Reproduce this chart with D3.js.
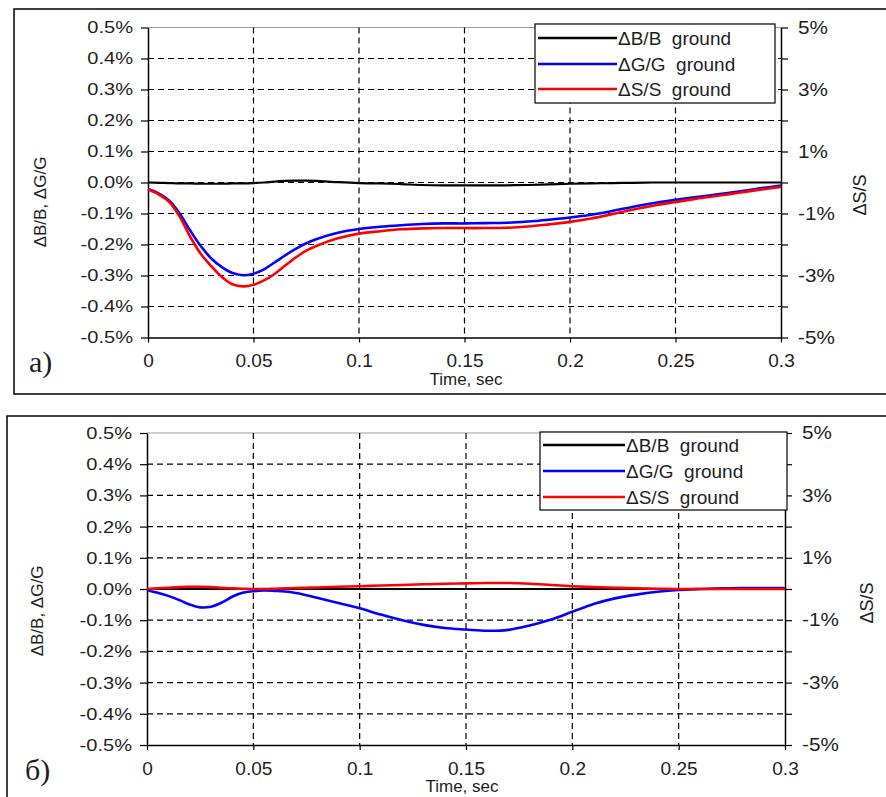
<!DOCTYPE html>
<html>
<head>
<meta charset="utf-8">
<script src="https://cdn.jsdelivr.net/npm/d3@7"></script>
<style>
  body { margin: 0; background: #fff; }
  svg text { font-family: "Liberation Sans", Arial, sans-serif; fill: #1e1e1e; }
</style>
</head>
<body>
<div id="chart"></div>
<script>
// time axis, seconds
const timeSec = [0, 0.005, 0.01, 0.015, 0.02, 0.025, 0.03, 0.035, 0.04, 0.045, 0.05, 0.055, 0.06,
  0.065, 0.07, 0.075, 0.08, 0.09, 0.1, 0.11, 0.12, 0.13, 0.14, 0.15, 0.16, 0.17, 0.18, 0.19, 0.2,
  0.21, 0.22, 0.23, 0.24, 0.25, 0.26, 0.27, 0.28, 0.29, 0.3];

// panel a) values, %  (B and G on left axis, S on right axis)
const bA = [0, -0.001, -0.002, -0.003, -0.003, -0.004, -0.004, -0.004, -0.003, -0.003, -0.002, 0, 0.003,
  0.005, 0.006, 0.006, 0.005, 0.001, -0.002, -0.003, -0.005, -0.008, -0.009, -0.009, -0.009, -0.009, -0.008, -0.006, -0.004,
  -0.003, -0.002, -0.001, 0, 0, 0, 0, 0, 0, 0];
const gA = [-0.021, -0.035, -0.058, -0.100, -0.155, -0.205, -0.245, -0.273, -0.292, -0.299, -0.294, -0.280, -0.258,
  -0.235, -0.214, -0.196, -0.182, -0.162, -0.150, -0.143, -0.138, -0.134, -0.132, -0.132, -0.131, -0.130, -0.126, -0.120, -0.113,
  -0.104, -0.092, -0.078, -0.066, -0.056, -0.047, -0.038, -0.029, -0.019, -0.010];
const sA = [-0.22, -0.38, -0.62, -1.10, -1.75, -2.30, -2.70, -3.05, -3.28, -3.35, -3.30, -3.16, -2.95,
  -2.68, -2.42, -2.20, -2.04, -1.80, -1.65, -1.57, -1.51, -1.48, -1.47, -1.47, -1.47, -1.46, -1.42, -1.35, -1.27,
  -1.16, -1.02, -0.87, -0.74, -0.63, -0.52, -0.43, -0.33, -0.23, -0.14];

// panel б) values, %
const bB = timeSec.map(() => 0);
const gB = [-0.005, -0.012, -0.022, -0.035, -0.050, -0.059, -0.057, -0.044, -0.025, -0.012, -0.007, -0.005, -0.006,
  -0.008, -0.013, -0.020, -0.028, -0.045, -0.062, -0.082, -0.100, -0.115, -0.125, -0.130, -0.134, -0.131, -0.117, -0.098, -0.073,
  -0.048, -0.030, -0.018, -0.009, -0.003, 0, 0.002, 0.003, 0.003, 0.003];
const sB = [0, 0.02, 0.04, 0.06, 0.07, 0.07, 0.06, 0.04, 0.02, 0.01, 0, 0, 0.01,
  0.02, 0.03, 0.04, 0.05, 0.07, 0.09, 0.11, 0.13, 0.15, 0.17, 0.18, 0.19, 0.19, 0.17, 0.13, 0.09,
  0.06, 0.04, 0.02, 0.01, 0, 0, 0, 0, 0, 0];

// ticks
const xTicks = [0, 0.05, 0.1, 0.15, 0.2, 0.25, 0.3];
const xTickLabels = ["0", "0.05", "0.1", "0.15", "0.2", "0.25", "0.3"];
const leftTicks = [-0.5, -0.4, -0.3, -0.2, -0.1, 0, 0.1, 0.2, 0.3, 0.4, 0.5];
const leftTickLabels = ["-0.5%", "-0.4%", "-0.3%", "-0.2%", "-0.1%", "0.0%", "0.1%", "0.2%", "0.3%", "0.4%", "0.5%"];
const rightTicks = [-5, -4, -3, -2, -1, 0, 1, 2, 3, 4, 5];
const rightTickLabels = ["-5%", "", "-3%", "", "-1%", "", "1%", "", "3%", "", "5%"];

const seriesNames = ["\u0394B/B\u00a0 ground", "\u0394G/G\u00a0 ground", "\u0394S/S\u00a0 ground"];
const seriesColors = ["#000000", "#0000ff", "#ff0000"];

const W = 886, H = 797;
const svg = d3.select('#chart').append('svg')
  .attr('width', W).attr('height', H)
  .attr('viewBox', '0 0 ' + W + ' ' + H);

const panels = [
  { tag: "a)", b: bA, g: gA, s: sA,
    left: 148, right: 781, top: 27.5, bottom: 337.5,
    frame: [14, 9, 900, 394],
    legend: [535, 24, 775, 103], legendRows: [38, 64, 89], legendLine: [538, 617],
    tagPos: [29, 372], yTitle: [40, 202], rTitle: [860, 195], xTitle: [466, 385] },
  { tag: "\u0431)", b: bB, g: gB, s: sB,
    left: 147, right: 785, top: 433, bottom: 745,
    frame: [7, 416, 900, 810],
    legend: [540, 432, 787, 510], legendRows: [445, 471, 497], legendLine: [543, 625],
    tagPos: [25, 780], yTitle: [37, 611], rTitle: [867, 603], xTitle: [462, 792] }
];

// the source figure has its tick labels a bit wider than plain Arial
const stretchText = (sel, sx) => {
  sel.each(function () {
    const t = d3.select(this);
    const x0 = +t.attr('x') || 0;
    t.attr('x', 0).attr('transform', 'translate(' + x0 + ',0) scale(' + sx + ',1)');
  });
}

const drawPanel = p => {
  const g = svg.append('g');

  // outer frame
  g.append('rect')
    .attr('x', p.frame[0]).attr('y', p.frame[1])
    .attr('width', p.frame[2] - p.frame[0]).attr('height', p.frame[3] - p.frame[1])
    .attr('fill', 'none').attr('stroke', '#000').attr('stroke-width', 1.5);

  const x = d3.scaleLinear().domain([0, 0.3]).range([p.left, p.right]);
  const yL = d3.scaleLinear().domain([-0.5, 0.5]).range([p.bottom, p.top]);
  const yR = d3.scaleLinear().domain([-5, 5]).range([p.bottom, p.top]);

  // top border of plot area
  g.append('line')
    .attr('x1', p.left).attr('x2', p.right).attr('y1', p.top).attr('y2', p.top)
    .attr('stroke', '#9a9a9a').attr('stroke-width', 1);

  // dashed grid
  g.append('g').selectAll('line')
    .data(leftTicks.filter(v => Math.abs(v) < 0.45))
    .join('line')
    .attr('x1', p.left).attr('x2', p.right)
    .attr('y1', d => yL(d)).attr('y2', d => yL(d))
    .attr('stroke', '#000').attr('stroke-width', 1.2).attr('stroke-dasharray', '6,4');
  g.append('g').selectAll('line')
    .data(xTicks.filter(v => v > 0.01 && v < 0.29))
    .join('line')
    .attr('x1', d => x(d)).attr('x2', d => x(d))
    .attr('y1', p.top).attr('y2', p.bottom)
    .attr('stroke', '#000').attr('stroke-width', 1.2).attr('stroke-dasharray', '6,4');

  // axes
  const axL = d3.axisLeft(yL).tickValues(leftTicks)
    .tickFormat((d, i) => leftTickLabels[i]).tickSize(7).tickSizeOuter(0).tickPadding(8);
  const axR = d3.axisRight(yR).tickValues(rightTicks)
    .tickFormat((d, i) => rightTickLabels[i]).tickSize(7).tickSizeOuter(0).tickPadding(10);
  const axB = d3.axisBottom(x).tickValues(xTicks)
    .tickFormat((d, i) => xTickLabels[i]).tickSize(5).tickSizeOuter(0).tickPadding(12);

  const gl = g.append('g').attr('transform', 'translate(' + p.left + ',0)').call(axL);
  const gr = g.append('g').attr('transform', 'translate(' + p.right + ',0)').call(axR);
  const gb = g.append('g').attr('transform', 'translate(0,' + p.bottom + ')').call(axB);
  [gl, gr, gb].forEach(a => {
    a.select('.domain').attr('stroke', '#000').attr('stroke-width', 1.5);
    a.selectAll('.tick line').attr('stroke', '#000').attr('stroke-width', 1.2);
    a.selectAll('text').attr('fill', '#1e1e1e')
      .style('font-family', '"Liberation Sans", Arial, sans-serif');
  });
  gl.selectAll('text').attr('font-size', 17);
  gr.selectAll('text').attr('font-size', 18);
  gb.selectAll('text').attr('font-size', 18);
  stretchText(gl.selectAll('text'), 1.18);
  stretchText(gr.selectAll('text'), 1.15);
  stretchText(gb.selectAll('text'), 1.06);

  // data lines
  const lineL = d3.line().x((d, i) => x(timeSec[i])).y(d => yL(d)).curve(d3.curveCatmullRom);
  const lineR = d3.line().x((d, i) => x(timeSec[i])).y(d => yR(d)).curve(d3.curveCatmullRom);
  g.append('path').datum(p.b).attr('d', lineL)
    .attr('fill', 'none').attr('stroke', seriesColors[0]).attr('stroke-width', 2.2);
  g.append('path').datum(p.g).attr('d', lineL)
    .attr('fill', 'none').attr('stroke', seriesColors[1]).attr('stroke-width', 2.6);
  g.append('path').datum(p.s).attr('d', lineR)
    .attr('fill', 'none').attr('stroke', seriesColors[2]).attr('stroke-width', 2.6);

  // legend
  const lg = g.append('g');
  lg.append('rect')
    .attr('x', p.legend[0]).attr('y', p.legend[1])
    .attr('width', p.legend[2] - p.legend[0]).attr('height', p.legend[3] - p.legend[1])
    .attr('fill', '#fff').attr('stroke', '#000').attr('stroke-width', 1.2);
  seriesNames.forEach((name, i) => {
    lg.append('line')
      .attr('x1', p.legendLine[0]).attr('x2', p.legendLine[1])
      .attr('y1', p.legendRows[i]).attr('y2', p.legendRows[i])
      .attr('stroke', seriesColors[i]).attr('stroke-width', 2.6);
    lg.append('text')
      .attr('x', p.legendLine[1] + 1).attr('y', p.legendRows[i]).attr('dy', '0.35em')
      .attr('font-size', 19)
      .text(name);
  });

  // titles
  g.append('text')
    .attr('transform', 'translate(' + p.yTitle[0] + ',' + p.yTitle[1] + ') rotate(-90)')
    .attr('text-anchor', 'middle').attr('dy', '0.35em').attr('font-size', 17)
    .text('\u0394B/B,  \u0394G/G');
  g.append('text')
    .attr('transform', 'translate(' + p.rTitle[0] + ',' + p.rTitle[1] + ') rotate(-90)')
    .attr('text-anchor', 'middle').attr('dy', '0.35em').attr('font-size', 18)
    .text('\u0394S/S');
  g.append('text')
    .attr('x', p.xTitle[0]).attr('y', p.xTitle[1])
    .attr('text-anchor', 'middle').attr('font-size', 17)
    .text('Time, sec');

  // panel tag
  g.append('text')
    .attr('x', p.tagPos[0]).attr('y', p.tagPos[1])
    .attr('font-size', 30)
    .style('font-family', '"Liberation Serif", "Times New Roman", serif')
    .attr('fill', '#000')
    .text(p.tag);
}

panels.forEach(drawPanel);
</script>
</body>
</html>
